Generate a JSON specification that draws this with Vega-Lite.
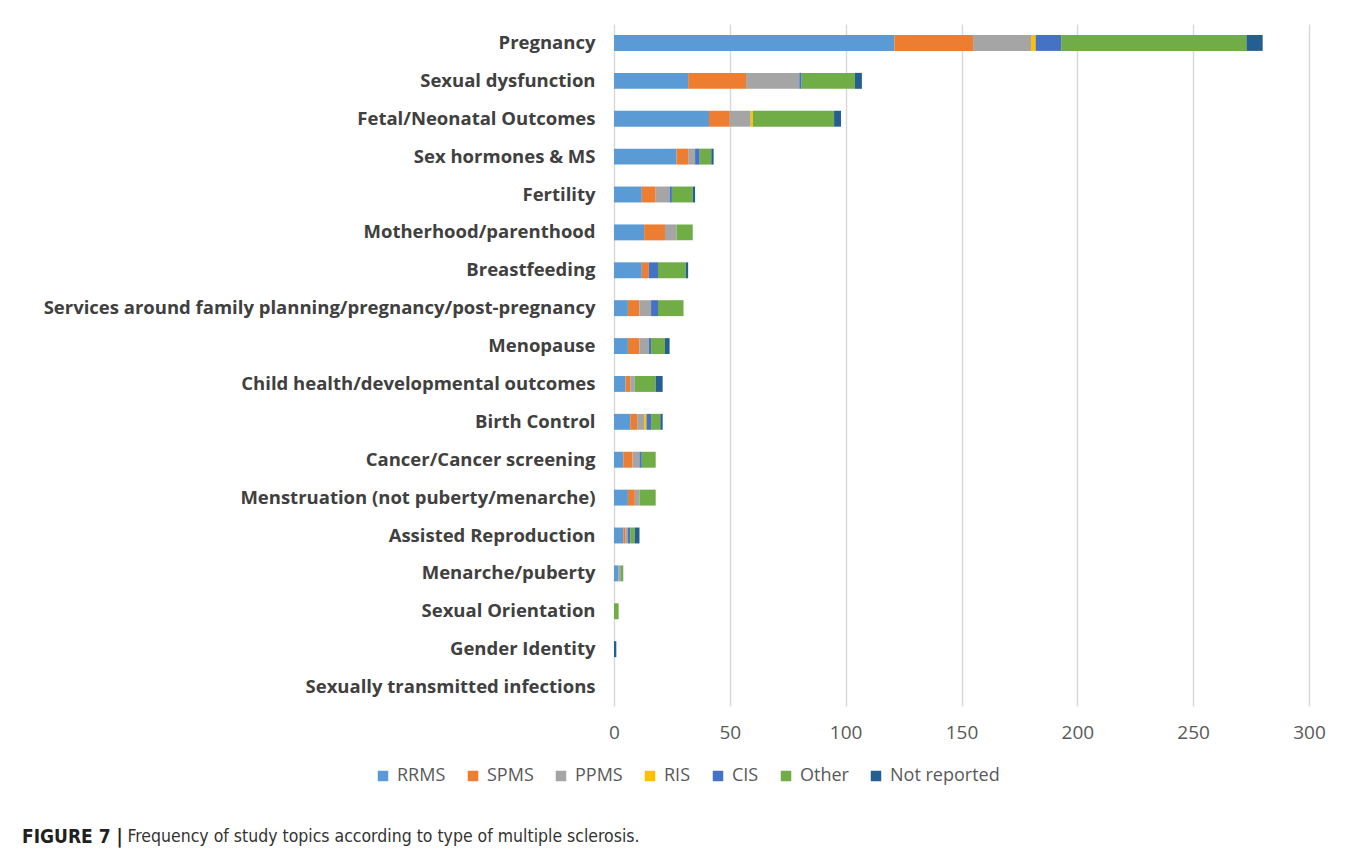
{
  "$schema": "https://vega.github.io/schema/vega-lite/v6.json",
  "autosize": {"type": "none"},
  "padding": {"left": 614, "top": 24, "right": 49, "bottom": 150},
  "width": 695,
  "height": 682,
  "background": "white",
  "title": {
    "text": "FIGURE 7 |",
    "orient": "top",
    "anchor": "start",
    "frame": "group",
    "offset": 0,
    "baseline": "middle",
    "dx": -592,
    "dy": 832,
    "font": "Liberation Sans Narrow, DejaVu Sans Condensed, Liberation Sans",
    "fontSize": 19,
    "fontWeight": "bold",
    "color": "#231f20"
  },
  "data": {
    "values": [
      {"topic": "Pregnancy", "type": "RRMS", "n": 121},
      {"topic": "Pregnancy", "type": "SPMS", "n": 34},
      {"topic": "Pregnancy", "type": "PPMS", "n": 25},
      {"topic": "Pregnancy", "type": "RIS", "n": 2},
      {"topic": "Pregnancy", "type": "CIS", "n": 11},
      {"topic": "Pregnancy", "type": "Other", "n": 80},
      {"topic": "Pregnancy", "type": "Not reported", "n": 7},
      {"topic": "Sexual dysfunction", "type": "RRMS", "n": 32},
      {"topic": "Sexual dysfunction", "type": "SPMS", "n": 25},
      {"topic": "Sexual dysfunction", "type": "PPMS", "n": 23},
      {"topic": "Sexual dysfunction", "type": "CIS", "n": 1},
      {"topic": "Sexual dysfunction", "type": "Other", "n": 23},
      {"topic": "Sexual dysfunction", "type": "Not reported", "n": 3},
      {"topic": "Fetal/Neonatal Outcomes", "type": "RRMS", "n": 41},
      {"topic": "Fetal/Neonatal Outcomes", "type": "SPMS", "n": 9},
      {"topic": "Fetal/Neonatal Outcomes", "type": "PPMS", "n": 9},
      {"topic": "Fetal/Neonatal Outcomes", "type": "RIS", "n": 1},
      {"topic": "Fetal/Neonatal Outcomes", "type": "Other", "n": 35},
      {"topic": "Fetal/Neonatal Outcomes", "type": "Not reported", "n": 3},
      {"topic": "Sex hormones & MS", "type": "RRMS", "n": 27},
      {"topic": "Sex hormones & MS", "type": "SPMS", "n": 5},
      {"topic": "Sex hormones & MS", "type": "PPMS", "n": 3},
      {"topic": "Sex hormones & MS", "type": "CIS", "n": 2},
      {"topic": "Sex hormones & MS", "type": "Other", "n": 5},
      {"topic": "Sex hormones & MS", "type": "Not reported", "n": 1},
      {"topic": "Fertility", "type": "RRMS", "n": 12},
      {"topic": "Fertility", "type": "SPMS", "n": 6},
      {"topic": "Fertility", "type": "PPMS", "n": 6},
      {"topic": "Fertility", "type": "CIS", "n": 1},
      {"topic": "Fertility", "type": "Other", "n": 9},
      {"topic": "Fertility", "type": "Not reported", "n": 1},
      {"topic": "Motherhood/parenthood", "type": "RRMS", "n": 13},
      {"topic": "Motherhood/parenthood", "type": "SPMS", "n": 9},
      {"topic": "Motherhood/parenthood", "type": "PPMS", "n": 5},
      {"topic": "Motherhood/parenthood", "type": "Other", "n": 7},
      {"topic": "Breastfeeding", "type": "RRMS", "n": 12},
      {"topic": "Breastfeeding", "type": "SPMS", "n": 3},
      {"topic": "Breastfeeding", "type": "CIS", "n": 4},
      {"topic": "Breastfeeding", "type": "Other", "n": 12},
      {"topic": "Breastfeeding", "type": "Not reported", "n": 1},
      {"topic": "Services around family planning/pregnancy/post-pregnancy", "type": "RRMS", "n": 6},
      {"topic": "Services around family planning/pregnancy/post-pregnancy", "type": "SPMS", "n": 5},
      {"topic": "Services around family planning/pregnancy/post-pregnancy", "type": "PPMS", "n": 5},
      {"topic": "Services around family planning/pregnancy/post-pregnancy", "type": "CIS", "n": 3},
      {"topic": "Services around family planning/pregnancy/post-pregnancy", "type": "Other", "n": 11},
      {"topic": "Menopause", "type": "RRMS", "n": 6},
      {"topic": "Menopause", "type": "SPMS", "n": 5},
      {"topic": "Menopause", "type": "PPMS", "n": 4},
      {"topic": "Menopause", "type": "CIS", "n": 1},
      {"topic": "Menopause", "type": "Other", "n": 6},
      {"topic": "Menopause", "type": "Not reported", "n": 2},
      {"topic": "Child health/developmental outcomes", "type": "RRMS", "n": 5},
      {"topic": "Child health/developmental outcomes", "type": "SPMS", "n": 2},
      {"topic": "Child health/developmental outcomes", "type": "PPMS", "n": 2},
      {"topic": "Child health/developmental outcomes", "type": "Other", "n": 9},
      {"topic": "Child health/developmental outcomes", "type": "Not reported", "n": 3},
      {"topic": "Birth Control", "type": "RRMS", "n": 7},
      {"topic": "Birth Control", "type": "SPMS", "n": 3},
      {"topic": "Birth Control", "type": "PPMS", "n": 3},
      {"topic": "Birth Control", "type": "RIS", "n": 1},
      {"topic": "Birth Control", "type": "CIS", "n": 2},
      {"topic": "Birth Control", "type": "Other", "n": 4},
      {"topic": "Birth Control", "type": "Not reported", "n": 1},
      {"topic": "Cancer/Cancer screening", "type": "RRMS", "n": 4},
      {"topic": "Cancer/Cancer screening", "type": "SPMS", "n": 4},
      {"topic": "Cancer/Cancer screening", "type": "PPMS", "n": 3},
      {"topic": "Cancer/Cancer screening", "type": "CIS", "n": 1},
      {"topic": "Cancer/Cancer screening", "type": "Other", "n": 6},
      {"topic": "Menstruation (not puberty/menarche)", "type": "RRMS", "n": 6},
      {"topic": "Menstruation (not puberty/menarche)", "type": "SPMS", "n": 3},
      {"topic": "Menstruation (not puberty/menarche)", "type": "PPMS", "n": 2},
      {"topic": "Menstruation (not puberty/menarche)", "type": "Other", "n": 7},
      {"topic": "Assisted Reproduction", "type": "RRMS", "n": 4},
      {"topic": "Assisted Reproduction", "type": "SPMS", "n": 1},
      {"topic": "Assisted Reproduction", "type": "PPMS", "n": 1},
      {"topic": "Assisted Reproduction", "type": "CIS", "n": 1},
      {"topic": "Assisted Reproduction", "type": "Other", "n": 2},
      {"topic": "Assisted Reproduction", "type": "Not reported", "n": 2},
      {"topic": "Menarche/puberty", "type": "RRMS", "n": 2},
      {"topic": "Menarche/puberty", "type": "PPMS", "n": 1},
      {"topic": "Menarche/puberty", "type": "Other", "n": 1},
      {"topic": "Sexual Orientation", "type": "Other", "n": 2},
      {"topic": "Gender Identity", "type": "Not reported", "n": 1},
      {"topic": "Sexually transmitted infections", "type": "RRMS", "n": 0}
    ]
  },
  "transform": [
    {"calculate": "indexof(['RRMS','SPMS','PPMS','RIS','CIS','Other','Not reported'], datum.type)", "as": "stackOrder"}
  ],
  "mark": {"type": "bar"},
  "encoding": {
    "y": {
      "field": "topic",
      "type": "nominal",
      "sort": null,
      "scale": {"paddingInner": 0.58, "paddingOuter": 0.29},
      "axis": {
        "title": null,
        "domain": false,
        "ticks": false,
        "grid": false,
        "labelFont": "Open Sans",
        "labelFontWeight": "bold",
        "labelFontSize": 18.5,
        "labelColor": "#404040",
        "labelPadding": 19,
        "labelLimit": 700
      }
    },
    "x": {
      "field": "n",
      "type": "quantitative",
      "stack": "zero",
      "scale": {"domain": [0, 300], "nice": false},
      "axis": {
        "values": [0, 50, 100, 150, 200, 250, 300],
        "domain": false,
        "ticks": false,
        "grid": true,
        "gridColor": "#d9d9d9",
        "gridWidth": 1.5,
        "labelFlush": false,
        "labelFont": "Open Sans",
        "labelFontSize": 19,
        "labelColor": "#595959",
        "labelPadding": 17,
        "title": "Frequency of study topics according to type of multiple sclerosis.",
        "titleFont": "Liberation Sans Narrow, DejaVu Sans Condensed, Liberation Sans",
        "titleFontSize": 17.5,
        "titleFontWeight": "normal",
        "titleColor": "#333333",
        "titleX": -487,
        "titleY": 130,
        "titleAlign": "left",
        "titleAnchor": "start",
        "titleBaseline": "middle"
      }
    },
    "order": {"field": "stackOrder", "type": "quantitative", "sort": "ascending"},
    "color": {
      "field": "type",
      "type": "nominal",
      "sort": ["RRMS", "SPMS", "PPMS", "RIS", "CIS", "Other", "Not reported"],
      "scale": {
        "domain": ["RRMS", "SPMS", "PPMS", "RIS", "CIS", "Other", "Not reported"],
        "range": ["#5B9BD5", "#ED7D31", "#A5A5A5", "#FFC000", "#4472C4", "#70AD47", "#255E91"]
      },
      "legend": {
        "title": null,
        "orient": "none",
        "direction": "horizontal",
        "legendX": -240,
        "legendY": 743,
        "symbolType": "square",
        "symbolSize": 110,
        "symbolStrokeWidth": 0,
        "labelFont": "Open Sans",
        "labelFontSize": 18,
        "labelColor": "#595959",
        "labelOffset": 5,
        "columnPadding": 18
      }
    }
  },
  "config": {
    "view": {"stroke": null}
  }
}
